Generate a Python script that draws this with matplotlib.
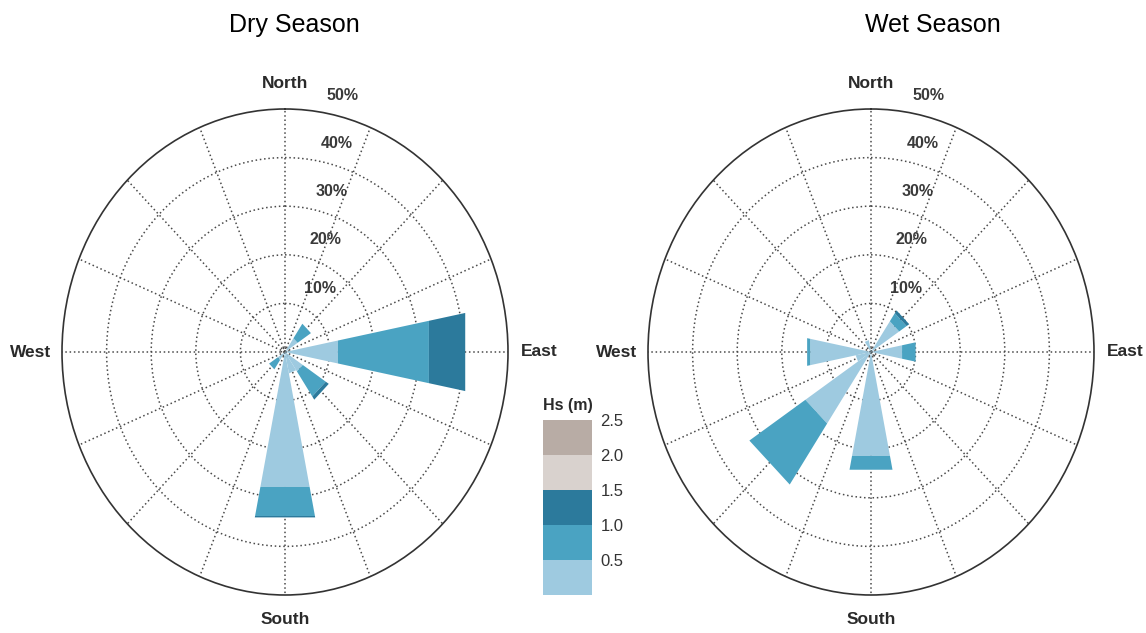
import numpy as np
import matplotlib
matplotlib.use("Agg")
import matplotlib.pyplot as plt
from matplotlib.colors import ListedColormap, BoundaryNorm
from matplotlib.cm import ScalarMappable

plt.rcParams["font.family"] = ["Liberation Sans", "DejaVu Sans"]

# 16 compass sectors, degrees clockwise from north
DIRECTIONS = [0, 22.5, 45, 67.5, 90, 112.5, 135, 157.5,
              180, 202.5, 225, 247.5, 270, 292.5, 315, 337.5]

HS_BOUNDS = [0, 0.5, 1.0, 1.5, 2.0, 2.5]
HS_TICKS = [0.5, 1.0, 1.5, 2.0, 2.5]
HS_COLORS = ["#9ecae0", "#4aa3c2", "#2c7a9c", "#d9d2ce", "#b8aca5"]
RINGS = [0.8, 10, 20, 30, 40]
RING_LABELS = [10, 20, 30, 40, 50]

# occurrence (%) per sector for each Hs class
DRY_HS_00_05 = [0, 0, 3.4, 0, 12.1, 0, 4.8, 4.5, 28.3, 0, 2.0, 0, 0, 0, 0, 0]
DRY_HS_05_10 = [0, 0, 3.6, 0, 20.8, 0, 6.2, 0, 6.1, 0, 2.3, 0, 0, 0, 0, 0]
DRY_HS_10_15 = [0, 0, 0, 0, 8.3, 0, 0.8, 0, 0.3, 0, 0, 0, 0, 0, 0, 0]

WET_HS_00_05 = [0, 0, 7.6, 0, 7.1, 0, 0, 0, 21.8, 0, 17.7, 3.5, 13.9, 0, 0, 2.5]
WET_HS_05_10 = [0, 0, 2.0, 0, 3.1, 0, 0, 0, 2.9, 0, 15.1, 0, 0.7, 0, 0, 0]
WET_HS_10_15 = [0, 0, 0.7, 0, 0, 0, 0, 0, 0, 0, 0, 0, 0, 0, 0, 0]

GRID_COLOR = "#4a4a4a"
TEXT_COLOR = "#2a2a2a"


def draw_rose(ax, classes):
    ax.set_theta_zero_location("N")
    ax.set_theta_direction(-1)
    ax.set_aspect("auto")
    ax.set_ylim(0, 50)
    ax.set_xticks(np.deg2rad(DIRECTIONS))
    ax.set_xticklabels([])
    ax.set_yticks(RINGS)
    ax.set_yticklabels([])
    ax.grid(True, color=GRID_COLOR, linestyle=(0, (1, 1.8)), linewidth=1.1)
    ax.spines["polar"].set_color("#333333")
    ax.spines["polar"].set_linewidth(1.2)

    # stacked sectors with straight outer edges
    width = np.deg2rad(22.5)
    theta = np.deg2rad(DIRECTIONS)
    base = np.zeros(len(DIRECTIONS))
    for vals, color in zip(classes, HS_COLORS):
        vals = np.asarray(vals, dtype=float)
        for t, r0, h in zip(theta, base, vals):
            if h <= 0:
                continue
            r1 = r0 + h
            ax.fill([t - width / 2, t + width / 2, t + width / 2, t - width / 2],
                    [r0, r0, r1, r1], color=color, lw=0, zorder=3)
        base = base + vals

    for v in RING_LABELS:
        ax.annotate(f"{v}%", xy=(np.deg2rad(7), v), xytext=(21.5, 11.2),
                    textcoords="offset points", ha="center", va="center",
                    fontsize=11.5, fontweight="bold", color="#3a3a3a",
                    annotation_clip=False)

    kw = dict(textcoords="offset points", fontsize=12.5, fontweight="bold",
              color=TEXT_COLOR, annotation_clip=False)
    ax.annotate("North", xy=(0, 50), xytext=(0, 18.5), ha="center", va="center", **kw)
    ax.annotate("South", xy=(np.pi, 50), xytext=(0, -18), ha="center", va="center", **kw)
    ax.annotate("West", xy=(np.deg2rad(270), 50), xytext=(-8, 0), ha="right", va="center", **kw)
    ax.annotate("East", xy=(np.deg2rad(90), 50), xytext=(9.5, 0), ha="left", va="center", **kw)


fig = plt.figure(figsize=(11.46, 6.33), dpi=100)

ax_dry = fig.add_axes([62 / 1146, 38 / 633, 446 / 1146, 486 / 633], projection="polar")
draw_rose(ax_dry, [DRY_HS_00_05, DRY_HS_05_10, DRY_HS_10_15])

ax_wet = fig.add_axes([648 / 1146, 38 / 633, 446 / 1146, 486 / 633], projection="polar")
draw_rose(ax_wet, [WET_HS_00_05, WET_HS_05_10, WET_HS_10_15])

fig.text(294 / 1146, 1 - 32 / 633, "Dry Season", fontsize=18, ha="center", va="baseline")
fig.text(933 / 1146, 1 - 32 / 633, "Wet Season", fontsize=18, ha="center", va="baseline")

# Hs legend
cax = fig.add_axes([543 / 1146, 38 / 633, 49 / 1146, 175 / 633])
cmap = ListedColormap(HS_COLORS)
norm = BoundaryNorm(HS_BOUNDS, cmap.N)
cb = fig.colorbar(ScalarMappable(norm=norm, cmap=cmap), cax=cax, ticks=HS_TICKS)
cb.outline.set_visible(False)
cb.ax.set_yticklabels([f"{t:.1f}" for t in HS_TICKS])
cax.minorticks_off()
cax.tick_params(which="both", length=0, labelsize=12, pad=6, labelcolor="#333333")
cax.annotate("Hs (m)", xy=(0.5, 1), xycoords="axes fraction", xytext=(0, 10.5),
             textcoords="offset points", ha="center", va="center",
             fontsize=11.5, fontweight="bold", color=TEXT_COLOR)

fig.savefig("out.png", dpi=100)
